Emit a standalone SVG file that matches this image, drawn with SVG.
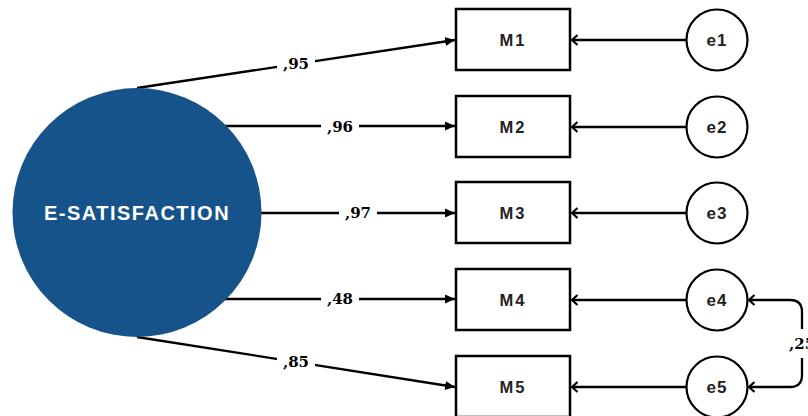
<svg xmlns="http://www.w3.org/2000/svg" width="808" height="416" viewBox="0 0 808 416">
<defs>
<style>
.box{fill:#fff;stroke:#000;stroke-width:2.5}
.err{fill:#fff;stroke:#000;stroke-width:2.2}
.lat{fill:#16538a}
.conn{fill:none;stroke:#000;stroke-width:2.3}
.sans{font-family:"Liberation Sans",Arial,sans-serif;font-weight:bold;text-anchor:middle;dominant-baseline:central}
.mt{font-size:16.5px;letter-spacing:2px;fill:#222}
.et{font-size:17px;letter-spacing:1px;fill:#222}
.lt{font-size:20px;letter-spacing:1.5px;fill:#fff}
.lab{font-family:"DejaVu Serif","Liberation Serif",serif;font-weight:bold;font-size:15px;fill:#000;text-anchor:middle;dominant-baseline:central}
.bg{fill:#fff}
</style>
<marker id="solid" viewBox="0 0 10 10" refX="10" refY="5" markerWidth="10" markerHeight="10" markerUnits="userSpaceOnUse" orient="auto">
<path d="M0,0.5 L10,5 L0,9.5 Z" fill="#000"/>
</marker>
<marker id="open" viewBox="0 0 12 12" refX="10.5" refY="6" markerWidth="12" markerHeight="12" markerUnits="userSpaceOnUse" orient="auto-start-reverse">
<path d="M5,1 L10.5,6 L5,11" fill="none" stroke="#000" stroke-width="2.2"/>
</marker>
</defs>

<g id="connectors">
<line class="conn" x1="137" y1="88" x2="455" y2="40" marker-end="url(#solid)"/>
<line class="conn" x1="225" y1="126" x2="455" y2="126" marker-end="url(#solid)"/>
<line class="conn" x1="260" y1="213" x2="455" y2="213" marker-end="url(#solid)"/>
<line class="conn" x1="225" y1="299" x2="455" y2="299" marker-end="url(#solid)"/>
<line class="conn" x1="137" y1="337" x2="455" y2="387" marker-end="url(#solid)"/>
<line class="conn" x1="686" y1="40" x2="572" y2="40" marker-end="url(#open)"/>
<line class="conn" x1="686" y1="127" x2="572" y2="127" marker-end="url(#open)"/>
<line class="conn" x1="686" y1="213" x2="572" y2="213" marker-end="url(#open)"/>
<line class="conn" x1="686" y1="300" x2="572" y2="300" marker-end="url(#open)"/>
<line class="conn" x1="686" y1="387" x2="572" y2="387" marker-end="url(#open)"/>
<path class="conn" d="M749,300 H790 Q802,300 802,312 V375 Q802,387 790,387 H749" marker-start="url(#open)" marker-end="url(#open)"/>
<g id="labels">
<rect class="bg" x="277" y="55" width="38" height="18"/>
<text class="lab" x="296" y="64">,95</text>
<rect class="bg" x="321" y="118" width="38" height="18"/>
<text class="lab" x="340" y="127">,96</text>
<rect class="bg" x="339" y="204" width="38" height="18"/>
<text class="lab" x="358" y="213">,97</text>
<rect class="bg" x="321" y="290" width="38" height="18"/>
<text class="lab" x="340" y="299">,48</text>
<rect class="bg" x="277" y="353" width="38" height="18"/>
<text class="lab" x="296" y="362">,85</text>
<rect class="bg" x="788" y="329" width="20" height="29"/>
<text class="lab" x="789" y="344" style="text-anchor:start">,25</text>
</g>
</g>

<g id="esat">
<circle class="lat" cx="137" cy="212.5" r="124.5"/>
<text class="sans lt" x="137" y="213">E-SATISFACTION</text>
</g>

<g id="M1"><rect class="box" x="456" y="9" width="114" height="61"/><text class="sans mt" x="513" y="40">M1</text></g>
<g id="M2"><rect class="box" x="456" y="96" width="114" height="61"/><text class="sans mt" x="513" y="127">M2</text></g>
<g id="M3"><rect class="box" x="456" y="182" width="114" height="61"/><text class="sans mt" x="513" y="213">M3</text></g>
<g id="M4"><rect class="box" x="456" y="269" width="114" height="61"/><text class="sans mt" x="513" y="300">M4</text></g>
<g id="M5"><rect class="box" x="456" y="356" width="114" height="61"/><text class="sans mt" x="513" y="387">M5</text></g>

<g id="e1"><circle class="err" cx="717" cy="40" r="30.5"/><text class="sans et" x="717" y="40">e1</text></g>
<g id="e2"><circle class="err" cx="717" cy="127" r="30.5"/><text class="sans et" x="717" y="127">e2</text></g>
<g id="e3"><circle class="err" cx="717" cy="213" r="30.5"/><text class="sans et" x="717" y="213">e3</text></g>
<g id="e4"><circle class="err" cx="717" cy="300" r="30.5"/><text class="sans et" x="717" y="300">e4</text></g>
<g id="e5"><circle class="err" cx="717" cy="387" r="30.5"/><text class="sans et" x="717" y="387">e5</text></g>
</svg>
